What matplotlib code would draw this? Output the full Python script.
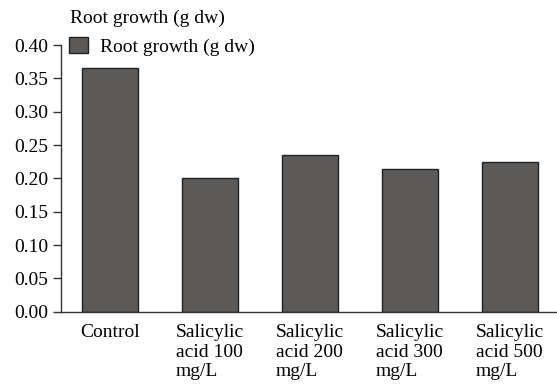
import numpy as np
import matplotlib.pyplot as plt

categories = ["Control", "Salicylic\nacid 100\nmg/L", "Salicylic\nacid 200\nmg/L",
              "Salicylic\nacid 300\nmg/L", "Salicylic\nacid 500\nmg/L"]
root_growth = [0.365, 0.201, 0.235, 0.214, 0.224]
yticks = [0.00, 0.05, 0.10, 0.15, 0.20, 0.25, 0.30, 0.35, 0.40]

plt.rcParams['font.family'] = ['Liberation Serif', 'DejaVu Serif']
plt.rcParams['font.size'] = 14

fig = plt.figure(figsize=(5.57, 3.85), dpi=100)
ax = fig.add_axes([0.1095, 0.19, 0.8905, 0.693])

x = np.arange(len(categories))
ax.bar(x, root_growth, width=0.56, color='#5b5a58', edgecolor='#222222',
       linewidth=1.0, label='Root growth (g dw)')

ax.set_xlim(-0.49, 4.47)
ax.set_ylim(0, 0.40)
ax.set_yticks(yticks)
ax.set_yticklabels([f"{v:.2f}" for v in yticks])
ax.set_xticks(x)
ax.set_xticklabels(categories, multialignment='left', linespacing=1.18)
ax.tick_params(axis='x', length=0, pad=9)
ax.tick_params(axis='y', length=6, width=1.0, pad=3, color='#333333')

for s in ['top', 'right']:
    ax.spines[s].set_visible(False)
for s in ['left', 'bottom']:
    ax.spines[s].set_color('#333333')
    ax.spines[s].set_linewidth(1.0)

fig.text(0.126, 0.953, "Root growth (g dw)", ha='left', va='center', fontsize=14)
ax.legend(loc='upper left', bbox_to_anchor=(0.123, 0.903), bbox_transform=fig.transFigure,
          frameon=False, handlelength=1.0, handleheight=0.9, handletextpad=0.6,
          borderaxespad=0, borderpad=0)

fig.savefig("out.png", dpi=100)
